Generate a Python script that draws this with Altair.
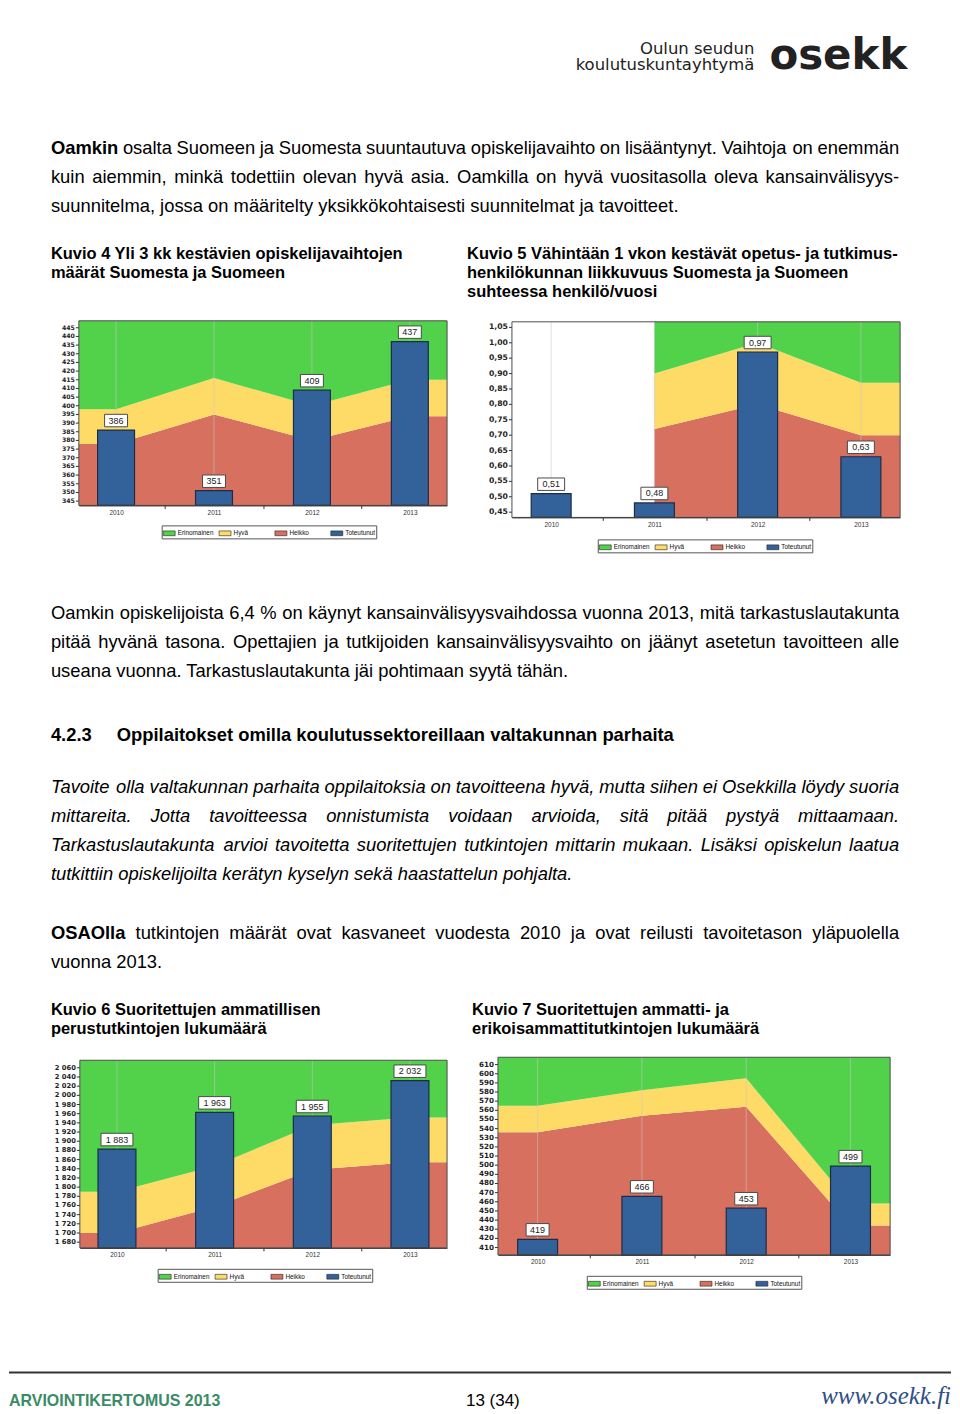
import altair as alt
import pandas as pd

# ------------------------------------------------------------------ data
YEARS = [2010, 2011, 2012, 2013]
SERIES = ["Erinomainen", "Hyvä", "Heikko", "Toteutunut"]
COLORS = ["#52d14a", "#fedb66", "#d7705f", "#33629a"]

K4_TOTEUTUNUT = [386, 351, 409, 437]
K4_HEIKKO_YLA = [378, 395, 380, 394]
K4_HYVA_YLA = [398, 416, 400, 415]
K4_TICKS = [345, 350, 355, 360, 365, 370, 375, 380, 385, 390, 395, 400, 405,
            410, 415, 420, 425, 430, 435, 440, 445]

K5_TOTEUTUNUT = [0.51, 0.48, 0.97, 0.63]
K5_HEIKKO_YLA = [None, 0.72, 0.80, 0.70]
K5_HYVA_YLA = [None, 0.90, 1.00, 0.87]
K5_TICKS = [0.45, 0.50, 0.55, 0.60, 0.65, 0.70, 0.75, 0.80, 0.85, 0.90, 0.95, 1.00, 1.05]

K6_TOTEUTUNUT = [1883, 1963, 1955, 2032]
K6_HEIKKO_YLA = [1700, 1757, 1838, 1854]
K6_HYVA_YLA = [1790, 1846, 1935, 1952]
K6_TICKS = [1680, 1700, 1720, 1740, 1760, 1780, 1800, 1820, 1840, 1860, 1880,
            1900, 1920, 1940, 1960, 1980, 2000, 2020, 2040, 2060]

K7_TOTEUTUNUT = [419, 466, 453, 499]
K7_HEIKKO_YLA = [536, 554, 564, 434]
K7_HYVA_YLA = [565, 582, 595, 458]
K7_TICKS = [410, 420, 430, 440, 450, 460, 470, 480, 490, 500, 510, 520, 530,
            540, 550, 560, 570, 580, 590, 600, 610]

LOGO_LINES = ["Oulun seudun", "koulutuskuntayhtymä"]
LOGO_WORD = "osekk"

P1_LEAD = "Oamkin"
P1_LINES = [
    "osalta Suomeen ja Suomesta suuntautuva opiskelijavaihto on lisääntynyt. Vaihtoja on enemmän",
    "kuin aiemmin, minkä todettiin olevan hyvä asia. Oamkilla on hyvä vuositasolla oleva kansainvälisyys-",
    "suunnitelma, jossa on määritelty yksikkökohtaisesti suunnitelmat ja tavoitteet.",
]
CAP4 = ["Kuvio 4 Yli 3 kk kestävien opiskelijavaihtojen", "määrät Suomesta ja Suomeen"]
CAP5 = ["Kuvio 5 Vähintään 1 vkon kestävät opetus- ja tutkimus-",
        "henkilökunnan liikkuvuus Suomesta ja Suomeen", "suhteessa henkilö/vuosi"]
P2_LINES = [
    "Oamkin opiskelijoista 6,4 % on käynyt kansainvälisyysvaihdossa vuonna 2013, mitä tarkastuslautakunta",
    "pitää hyvänä tasona. Opettajien ja tutkijoiden kansainvälisyysvaihto on jäänyt asetetun tavoitteen alle",
    "useana vuonna. Tarkastuslautakunta jäi pohtimaan syytä tähän.",
]
HEAD_NUM = "4.2.3"
HEAD_TEXT = "Oppilaitokset omilla koulutussektoreillaan valtakunnan parhaita"
IT_LINES = [
    "Tavoite olla valtakunnan parhaita oppilaitoksia on tavoitteena hyvä, mutta siihen ei Osekkilla löydy suoria",
    "mittareita. Jotta tavoitteessa onnistumista voidaan arvioida, sitä pitää pystyä mittaamaan.",
    "Tarkastuslautakunta arvioi tavoitetta suoritettujen tutkintojen mittarin mukaan. Lisäksi opiskelun laatua",
    "tutkittiin opiskelijoilta kerätyn kyselyn sekä haastattelun pohjalta.",
]
P3_LEAD = "OSAOlla"
P3_LINES = [
    "tutkintojen määrät ovat kasvaneet vuodesta 2010 ja ovat reilusti tavoitetason yläpuolella",
    "vuonna 2013.",
]
CAP6 = ["Kuvio 6 Suoritettujen ammatillisen", "perustutkintojen lukumäärä"]
CAP7 = ["Kuvio 7 Suoritettujen ammatti- ja", "erikoisammattitutkintojen lukumäärä"]
FOOT_LEFT = "ARVIOINTIKERTOMUS 2013"
FOOT_PAGE = "13 (34)"
FOOT_URL = "www.osekk.fi"

# ------------------------------------------------------------------ page geometry
PAGE_W, PAGE_H = 944, 1398
FONT = "Liberation Sans"
BODY = 18.4
CAPS = 16.5

_D = {str(d): 556 for d in range(10)}
REG = dict(_D, **{' ': 278, ',': 278, '.': 278, '-': 333, '%': 889, '/': 278, '(': 333, ')': 333,
    'A': 667, 'B': 667, 'C': 722, 'D': 722, 'E': 667, 'F': 611, 'G': 778, 'H': 722, 'I': 278,
    'J': 500, 'K': 667, 'L': 556, 'M': 833, 'N': 722, 'O': 778, 'P': 667, 'Q': 778, 'R': 722,
    'S': 667, 'T': 611, 'U': 722, 'V': 667, 'W': 944, 'X': 667, 'Y': 667, 'Z': 611,
    'a': 556, 'b': 556, 'c': 500, 'd': 556, 'e': 556, 'f': 278, 'g': 556, 'h': 556, 'i': 222,
    'j': 222, 'k': 500, 'l': 222, 'm': 833, 'n': 556, 'o': 556, 'p': 556, 'q': 556, 'r': 333,
    's': 500, 't': 278, 'u': 556, 'v': 500, 'w': 722, 'x': 500, 'y': 500, 'z': 500,
    'ä': 556, 'ö': 556, 'å': 556})
BOLD = dict(_D, **{' ': 278, ',': 278, '.': 278, '-': 333, '%': 889, '/': 278, '(': 333, ')': 333,
    'A': 722, 'B': 722, 'C': 722, 'D': 722, 'E': 667, 'F': 611, 'G': 778, 'H': 722, 'I': 278,
    'J': 556, 'K': 722, 'L': 611, 'M': 833, 'N': 722, 'O': 778, 'P': 667, 'Q': 778, 'R': 722,
    'S': 667, 'T': 611, 'U': 722, 'V': 667, 'W': 944, 'X': 667, 'Y': 667, 'Z': 611,
    'a': 556, 'b': 611, 'c': 556, 'd': 611, 'e': 556, 'f': 333, 'g': 611, 'h': 611, 'i': 278,
    'j': 278, 'k': 556, 'l': 278, 'm': 889, 'n': 611, 'o': 611, 'p': 611, 'q': 611, 'r': 389,
    's': 556, 't': 333, 'u': 611, 'v': 556, 'w': 778, 'x': 556, 'y': 556, 'z': 500,
    'ä': 556, 'ö': 611})

STYLES = {
    "reg": dict(font=FONT, fontSize=BODY, color="#000000", align="left", baseline="middle"),
    "bold": dict(font=FONT, fontSize=BODY, fontWeight="bold", color="#000000", align="left", baseline="middle"),
    "ital": dict(font=FONT, fontSize=BODY, fontStyle="italic", color="#000000", align="left", baseline="middle"),
    "cap": dict(font=FONT, fontSize=CAPS, fontWeight="bold", color="#000000", align="left", baseline="middle"),
    "logo_s": dict(font="DejaVu Sans", fontSize=16.5, color="#222222", align="right", baseline="alphabetic"),
    "logo_b": dict(font="DejaVu Sans", fontSize=42, fontWeight="bold", color="#222222", align="left",
                   baseline="alphabetic"),
    "foot_b": dict(font=FONT, fontSize=16, fontWeight="bold", color="#3b8b68", align="left", baseline="middle"),
    "foot_n": dict(font=FONT, fontSize=17, color="#000000", align="left", baseline="middle"),
    "foot_u": dict(font="Liberation Serif", fontSize=25, fontStyle="italic", color="#2f4f86", align="right",
                   baseline="middle"),
}
TABLE = {"reg": REG, "bold": BOLD, "ital": REG, "cap": BOLD}


def tw(s, st):
    return sum(TABLE[st].get(c, 556) for c in s) * STYLES[st]["fontSize"] / 1000.0


def line(text, x0, y, st, right=None, lead=None, lead_st="bold"):
    out = []
    x = x0
    if lead:
        out.append(dict(t=lead, px=x0, py=y, st=lead_st))
        x = x0 + tw(lead, lead_st)
    if right is None:
        if lead:
            x += tw(" ", st)
        out.append(dict(t=text, px=x, py=y, st=st))
        return out
    words = text.split(" ")
    ws = [tw(w, st) for w in words]
    ngaps = len(words) - 1 + (1 if lead else 0)
    gap = max((right - x - sum(ws)) / ngaps, 3.0)
    if lead:
        x += gap
    for w, wd in zip(words, ws):
        out.append(dict(t=w, px=x, py=y, st=st))
        x += wd + gap
    return out


def text_layers(pieces):
    layers = []
    for st in dict.fromkeys(p["st"] for p in pieces):
        df = pd.DataFrame([p for p in pieces if p["st"] == st])
        layers.append(
            alt.Chart(df).mark_text(**STYLES[st]).encode(
                x=alt.X("px:Q", scale=None, axis=None),
                y=alt.Y("py:Q", scale=None, axis=None),
                text="t:N",
            )
        )
    return layers


# ------------------------------------------------------------------ charts
XMIN, XMAX = 2009.62, 2013.38


def area_frame(heikko, hyva, ymin, ymax):
    rows = []
    bands = [("Heikko", [ymin] * 4, heikko), ("Hyvä", heikko, hyva), ("Erinomainen", hyva, [ymax] * 4)]
    for name, lo, hi in bands:
        pts = [(yr, l, h) for yr, l, h in zip(YEARS, lo, hi) if l is not None and h is not None]
        if lo[0] is not None and hi[0] is not None:
            pts = [(XMIN, pts[0][1], pts[0][2])] + pts
        pts = pts + [(XMAX, pts[-1][1], pts[-1][2])]
        for x, l, h in pts:
            rows.append(dict(x=x, lo=l, hi=h, sarja=name))
    return pd.DataFrame(rows)


def kuvio(vals, heikko, hyva, ymin, ymax, ticks, xr, yr, bar_w, box_w, fmt, y_fs, lx, ly):
    xs = alt.Scale(domain=[XMIN, XMAX], range=xr, nice=False, zero=False, padding=0)
    ys = alt.Scale(domain=[ymin, ymax], range=yr, nice=False, zero=False, padding=0)
    legend = alt.Legend(
        orient="none", legendX=lx, legendY=ly, direction="horizontal", columns=4, gridAlign="all",
        title=None, symbolType="M-1,-0.4H1V0.4H-1Z", symbolSize=144, symbolStrokeColor="#222222",
        symbolStrokeWidth=0.6, symbolOpacity=1, labelFont=FONT, labelFontSize=6.4, labelColor="#111111",
        labelOffset=2, columnPadding=4, padding=1, strokeColor="#555555", fillColor="#ffffff",
    )
    color = alt.Color("sarja:N", scale=alt.Scale(domain=SERIES, range=COLORS), legend=legend)
    xoff = yr[0] - PAGE_H
    ax_lab = alt.Axis(values=YEARS, format="d", title=None, grid=False, ticks=False, orient="bottom",
                      offset=xoff, labelFont=FONT, labelFontSize=6.5, labelColor="#333333",
                      labelPadding=4, domainColor="#333333", zindex=1)
    ax_tick = alt.Axis(values=[2010.5, 2011.5, 2012.5], title=None, grid=False, labels=False,
                       domain=False, orient="bottom", offset=xoff, tickSize=3, tickColor="#333333",
                       zindex=1)

    areas = alt.Chart(area_frame(heikko, hyva, ymin, ymax)).mark_area(interpolate="linear", opacity=1).encode(
        x=alt.X("x:Q", scale=xs, axis=ax_lab),
        y=alt.Y("hi:Q", scale=ys, axis=None, stack=None),
        y2="lo:Q",
        color=color,
    )
    bdf = pd.DataFrame({"x": YEARS, "v": vals, "lab": [fmt(v) for v in vals], "sarja": "Toteutunut",
                        "top": ymax, "bottom": ymin})
    # faint vertical grid lines at the years
    grid = alt.Chart(bdf).mark_rule(color="#c8c8c8", strokeWidth=1, opacity=0.55).encode(
        x=alt.X("x:Q", scale=xs, axis=None),
        y=alt.Y("top:Q", scale=ys, axis=None), y2="bottom",
    )
    bars = alt.Chart(bdf).mark_bar(size=bar_w, stroke="#1c2d48", strokeWidth=1.2, opacity=1).encode(
        x=alt.X("x:Q", scale=xs, axis=ax_tick),
        y=alt.Y("v:Q", scale=ys, axis=None),
        y2="bottom",
        color=color,
    )
    fdf = pd.DataFrame({"x": [XMIN], "x2": [XMAX], "v": [ymax], "v2": [ymin]})
    frame = alt.Chart(fdf).mark_rect(
        fill="#ffffff", fillOpacity=0, stroke="#4d4d4d", strokeWidth=1
    ).encode(
        x=alt.X("x:Q", scale=xs, axis=None), x2="x2",
        y=alt.Y("v:Q", scale=ys, axis=None), y2="v2",
    )
    # y axis: tick marks and bold labels drawn through the chart's scales
    tdf = pd.DataFrame({"x": XMIN, "v": ticks, "lab": [fmt(t) for t in ticks]})
    yticks = alt.Chart(tdf).mark_rule(color="#333333", strokeWidth=1, x2Offset=-3).encode(
        x=alt.X("x:Q", scale=xs, axis=None), x2="x",
        y=alt.Y("v:Q", scale=ys, axis=None),
    )
    ylabels = alt.Chart(tdf).mark_text(
        align="right", baseline="middle", dx=-4, font="DejaVu Sans", fontSize=y_fs, fontWeight="bold",
        color="#1e1e1e",
    ).encode(x=alt.X("x:Q", scale=xs, axis=None), y=alt.Y("v:Q", scale=ys, axis=None), text="lab:N")

    r = 12.5 / box_w
    boxes = alt.Chart(bdf).mark_point(
        shape=f"M-1,-{r:.3f}H1V{r:.3f}H-1Z", size=box_w * box_w, filled=True, fill="#ffffff",
        stroke="#4a4a4a", strokeWidth=1, opacity=1, yOffset=-9.5,
    ).encode(x=alt.X("x:Q", scale=xs, axis=None), y=alt.Y("v:Q", scale=ys, axis=None))
    labels = alt.Chart(bdf).mark_text(
        font=FONT, fontSize=9, color="#222222", baseline="middle", align="center", yOffset=-9.5,
    ).encode(x=alt.X("x:Q", scale=xs, axis=None), y=alt.Y("v:Q", scale=ys, axis=None), text="lab:N")
    return alt.layer(areas, grid, bars, frame, yticks, ylabels, boxes, labels).resolve_axis(x="independent")


def f_int(v):
    return str(v)


def f_dec(v):
    return f"{v:.2f}".replace(".", ",")


def f_thou(v):
    return f"{v:,}".replace(",", " ")


ch4 = kuvio(K4_TOTEUTUNUT, K4_HEIKKO_YLA, K4_HYVA_YLA, 342.5, 449, K4_TICKS, [70, 439], [497, 312],
            37, 23, f_int, 6.2, 153, 517)
ch5 = kuvio(K5_TOTEUTUNUT, K5_HEIKKO_YLA, K5_HYVA_YLA, 0.433, 1.068, K5_TICKS, [504, 893], [509, 313],
            40, 27, f_dec, 7.7, 590, 531)
ch6 = kuvio(K6_TOTEUTUNUT, K6_HEIKKO_YLA, K6_HYVA_YLA, 1667.6, 2076.5, K6_TICKS, [71, 439], [1241, 1053],
            38, 32, f_thou, 6.8, 149, 1262)
ch7 = kuvio(K7_TOTEUTUNUT, K7_HEIKKO_YLA, K7_HYVA_YLA, 402, 618, K7_TICKS, [490, 883], [1248, 1050],
            40, 23, f_int, 7.2, 579, 1269)

# ------------------------------------------------------------------ page text (view coordinates)
R = 892  # right edge of justified text
pcs = []
pcs.append(dict(t=LOGO_LINES[0], px=747, py=44.5, st="logo_s"))
pcs.append(dict(t=LOGO_LINES[1], px=747, py=61, st="logo_s"))
pcs.append(dict(t=LOGO_WORD, px=762, py=60, st="logo_b"))
pcs += line(P1_LINES[0], 42, 138.5, "reg", right=R, lead=P1_LEAD)
pcs += line(P1_LINES[1], 42, 167.8, "reg", right=R)
pcs += line(P1_LINES[2], 42, 197, "reg")
for i, s in enumerate(CAP4):
    pcs += line(s, 42, 244.7 + 19 * i, "cap")
for i, s in enumerate(CAP5):
    pcs += line(s, 459, 244.7 + 19 * i, "cap")
pcs += line(P2_LINES[0], 42, 604.5, "reg", right=R)
pcs += line(P2_LINES[1], 42, 633.5, "reg", right=R)
pcs += line(P2_LINES[2], 42, 662.5, "reg")
pcs.append(dict(t=HEAD_NUM, px=42, py=727.5, st="bold"))
pcs.append(dict(t=HEAD_TEXT, px=108, py=727.5, st="bold"))
for i, s in enumerate(IT_LINES):
    pcs += line(s, 42, 779.5 + 29 * i, "ital", right=(R if i < 3 else None))
pcs += line(P3_LINES[0], 42, 925.5, "reg", right=R, lead=P3_LEAD)
pcs += line(P3_LINES[1], 42, 954.5, "reg")
for i, s in enumerate(CAP6):
    pcs += line(s, 42, 1002.7 + 19 * i, "cap")
for i, s in enumerate(CAP7):
    pcs += line(s, 464, 1002.7 + 19 * i, "cap")
pcs.append(dict(t=FOOT_LEFT, px=0, py=1394.5, st="foot_b"))
pcs.append(dict(t=FOOT_PAGE, px=458, py=1394.5, st="foot_n"))
pcs.append(dict(t=FOOT_URL, px=944, py=1389, st="foot_u"))

rule = alt.Chart(pd.DataFrame({"a": [0]})).mark_rule(color="#333333", strokeWidth=2).encode(
    x=alt.value(0), x2=alt.value(944), y=alt.value(1366)
)

chart = (
    alt.layer(*text_layers(pcs), rule, ch4, ch5, ch6, ch7)
    .resolve_scale(x="independent", y="independent", color="independent")
    .resolve_axis(x="independent", y="independent")
    .resolve_legend(color="independent")
    .properties(width=PAGE_W, height=PAGE_H, padding=0, background="#ffffff")
    .configure_view(stroke="transparent")
)
chart.save("out.html", embed_options={"renderer": "svg", "actions": False})
